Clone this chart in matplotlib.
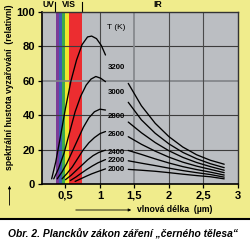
import matplotlib
matplotlib.use('Agg')
import matplotlib.pyplot as plt
from matplotlib.patches import Rectangle, FancyArrowPatch
from matplotlib.lines import Line2D
from matplotlib.transforms import blended_transform_factory

# ---- data ----
temperatures = [3200, 3000, 2800, 2600, 2400, 2200, 2000]
temp_label_y = [68, 53, 39, 28.5, 18.6, 13.4, 8.3]

head_3200_x = [0.30, 0.36, 0.42, 0.50, 0.58, 0.66, 0.74, 0.82, 0.88, 0.95, 1.02, 1.08]
head_3200_y = [3, 13, 26, 44, 60, 72, 81, 85.5, 86, 84.5, 80.5, 75]
head_3000_x = [0.33, 0.40, 0.48, 0.56, 0.64, 0.72, 0.80, 0.87, 0.94, 1.01, 1.08]
head_3000_y = [3, 9, 18, 30, 42, 51, 57.5, 61, 62.5, 61.5, 59.5]
head_2800_x = [0.38, 0.45, 0.52, 0.60, 0.68, 0.76, 0.84, 0.92, 1.00, 1.08]
head_2800_y = [3, 7, 12, 19, 26, 33, 38.5, 42, 43.5, 43]
head_2600_x = [0.45, 0.52, 0.60, 0.68, 0.76, 0.84, 0.92, 1.00, 1.08]
head_2600_y = [3, 6, 10, 15, 20, 24, 27, 29.3, 30.5]
head_2400_x = [0.50, 0.58, 0.66, 0.74, 0.82, 0.90, 0.98, 1.08]
head_2400_y = [2.5, 5, 8, 11, 14, 16.5, 18.3, 19.7]
head_2200_x = [0.57, 0.65, 0.73, 0.81, 0.89, 0.97, 1.08]
head_2200_y = [2, 4, 6.3, 8.5, 10.5, 12.3, 14.2]
head_2000_x = [0.64, 0.72, 0.80, 0.88, 0.96, 1.08]
head_2000_y = [1.5, 3, 4.5, 5.9, 7.1, 8.8]

tail_x = [1.41, 1.6, 1.8, 2.0, 2.2, 2.4, 2.6, 2.8]
tail_3200_y = [58.5, 45.5, 35.3, 27.5, 21.5, 17.0, 13.8, 11.5]
tail_3000_y = [47.5, 37.3, 29.5, 23.3, 18.4, 14.7, 11.8, 9.5]
tail_2800_y = [36.0, 29.8, 24.1, 19.3, 15.5, 12.5, 10.1, 8.0]
tail_2600_y = [27.5, 23.1, 19.1, 15.6, 12.7, 10.4, 8.5, 6.6]
tail_2400_y = [19.5, 17.2, 14.6, 12.2, 10.1, 8.4, 6.9, 5.2]
tail_2200_y = [13.5, 12.1, 10.7, 9.2, 7.8, 6.6, 5.5, 4.0]
tail_2000_y = [8.5, 8.0, 7.4, 6.6, 5.7, 4.9, 4.2, 3.0]

heads = [(head_3200_x, head_3200_y), (head_3000_x, head_3000_y),
         (head_2800_x, head_2800_y), (head_2600_x, head_2600_y),
         (head_2400_x, head_2400_y), (head_2200_x, head_2200_y),
         (head_2000_x, head_2000_y)]
tails = [tail_3200_y, tail_3000_y, tail_2800_y, tail_2600_y,
         tail_2400_y, tail_2200_y, tail_2000_y]

band_edges = [0.36, 0.40, 0.45, 0.50, 0.55, 0.745]
band_colors = ['#7a3c98', '#3c5fb2', '#3daa4a', '#eee62e', '#ec2d30']

region_names = ['UV', 'VIS', 'IR']
region_centers = [0.25, 0.55, 1.84]
region_bounds = [0.35, 0.74]

x_ticks = [0.5, 1, 1.5, 2, 2.5, 3]
x_tick_labels = ['0,5', '1', '1,5', '2', '2,5', '3']
y_ticks = [0, 20, 40, 60, 80, 100]

# ---- figure ----
W = 250.0
fig = plt.figure(figsize=(2.5, 2.5), dpi=100, facecolor='#f0ec8c')
plt.rcParams['font.family'] = ['Liberation Sans', 'DejaVu Sans']

ax = fig.add_axes([42 / W, 66 / W, 196 / W, 172 / W])
ax.set_facecolor('#bbbec2')
ax.set_xlim(0.16, 3)
ax.set_ylim(0, 100)

# spectrum bands
for i, c in enumerate(band_colors):
    ax.axvspan(band_edges[i], band_edges[i + 1], color=c, lw=0, zorder=1)

# grid
for yv in [20, 40, 80]:
    ax.axhline(yv, color='#3c3c3c', lw=0.8, zorder=2)
ax.axhline(60, color='#808387', lw=1.2, zorder=2)
for xv in [1, 2, 2.5]:
    ax.axvline(xv, color='#4a4a4a', lw=0.8, zorder=2)
ax.axvline(1.5, color='#86898d', lw=1.3, zorder=2)

# curves
for (hx, hy), ty in zip(heads, tails):
    ax.plot(hx, hy, color='black', lw=0.95, zorder=4, solid_capstyle='round')
    ax.plot(tail_x, ty, color='black', lw=0.95, zorder=4, solid_capstyle='round')

for t, ly in zip(temperatures, temp_label_y):
    ax.text(1.24, ly, str(t), fontsize=5.6, fontweight='bold',
            ha='center', va='center', zorder=5)
ax.text(1.24, 91, 'T (K)', fontsize=6, ha='center', va='center', zorder=5)

# axes styling
for s in ['left', 'bottom']:
    ax.spines[s].set_color('black')
    ax.spines[s].set_linewidth(1.2)
for s in ['top', 'right']:
    ax.spines[s].set_color('#333333')
    ax.spines[s].set_linewidth(1.0)
ax.set_xticks(x_ticks)
ax.set_xticklabels(x_tick_labels)
ax.set_yticks(y_ticks)
ax.tick_params(axis='both', direction='out', length=3, width=0.9,
               labelsize=8, pad=2)
for lab in ax.get_xticklabels() + ax.get_yticklabels():
    lab.set_fontweight('bold')

# region labels on top
tr = blended_transform_factory(ax.transData, ax.transAxes)
for name, cx in zip(region_names, region_centers):
    ax.text(cx, 1.045, name, transform=tr, fontsize=6.2, fontweight='bold',
            ha='center', va='center', clip_on=False)
for bx in region_bounds:
    ax.add_line(Line2D([bx, bx], [1.0, 1.058], transform=tr, color='black',
                       lw=0.8, clip_on=False))

# axis titles
fig.text(10 / W, 1 - 87 / W, 'spektrální hustota vyzařování  (relativní)',
         rotation=90, fontsize=6.2, fontweight='bold', ha='center', va='center')
fig.add_artist(FancyArrowPatch((9.5 / W, 1 - 208 / W), (9.5 / W, 1 - 183 / W),
                               transform=fig.transFigure, arrowstyle='-|>',
                               mutation_scale=4, lw=0.6, color='black'))
fig.text(175 / W, 1 - 210 / W, 'vlnová délka  (µm)', fontsize=6.2,
         fontweight='bold', ha='center', va='center')
fig.add_artist(FancyArrowPatch((73 / W, 1 - 210 / W), (134 / W, 1 - 210 / W),
                               transform=fig.transFigure, arrowstyle='-|>',
                               mutation_scale=4, lw=0.6, color='black'))

# caption box
fig.add_artist(Rectangle((0, 0), 1, 31 / W, transform=fig.transFigure,
                         facecolor='white', edgecolor='none', zorder=0))
fig.add_artist(Line2D([0, 1], [31 / W, 31 / W], transform=fig.transFigure,
                      color='black', lw=1.5))
fig.text(122.5 / W, 1 - 234 / W, 'Obr. 2. Planckův zákon záření „černého tělesa“',
         fontsize=7.4, fontweight='bold', style='italic', ha='center', va='center')

fig.savefig('out.png', dpi=100, facecolor=fig.get_facecolor())
